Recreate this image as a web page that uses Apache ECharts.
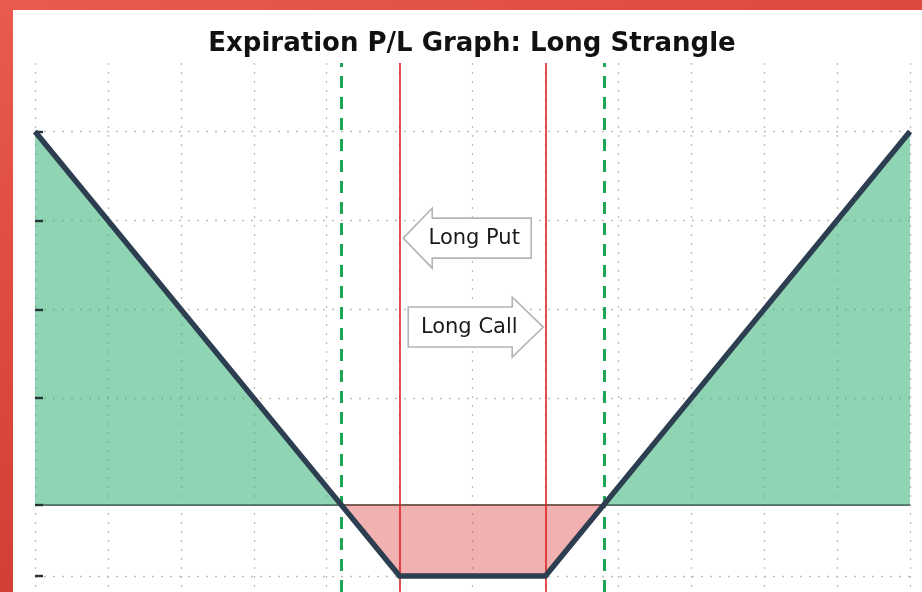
<!DOCTYPE html>
<html>
<head>
<meta charset="utf-8">
<script src="https://cdn.jsdelivr.net/npm/echarts@6/dist/echarts.min.js"></script>
<style>
  html, body { margin: 0; padding: 0; width: 922px; height: 592px; overflow: hidden; }
  body { background: linear-gradient(160deg, #ea5a4e 0%, #d9463c 45%, #c3322b 100%); position: relative; }
  #panel { position: absolute; left: 13px; top: 10px; right: 0; bottom: 0; background: #ffffff; }
  #chart { position: absolute; left: 0; top: 0; width: 922px; height: 592px; }
</style>
</head>
<body>
<div id="panel"></div>
<div id="chart"></div>
<script>
// ---- data ----
const chartTitle = 'Expiration P/L Graph: Long Strangle';
const priceX = [0, 4.2, 5, 7, 7.8, 12];          // underlying price at expiration
const profitLoss = [4.2, 0, -0.8, -0.8, 0, 4.2];  // P/L at those prices
const strikeLines = [5, 7];                        // put strike, call strike
const breakevenLines = [4.2, 7.8];                 // breakeven prices
const yGridValues = [-0.8, 0, 1.2, 2.2, 3.2, 4.2];
const arrowLabels = ['Long Put', 'Long Call'];
const arrowTipX = [5.05, 6.97];
const arrowTipY = [3.0, 2.0];
const arrowDirs = ['left', 'right'];

// ---- build series data ----
const plPoints = priceX.map((x, i) => [x, profitLoss[i]]);
const gainPoints = plPoints.filter(p => p[1] >= 0);
const lossPoints = plPoints.filter(p => p[1] <= 0);
const arrowData = arrowLabels.map((t, i) => [arrowTipX[i], arrowTipY[i]]);

const chart = echarts.init(document.getElementById('chart'), null, { renderer: 'canvas' });

const dotted = { color: '#bdbdbd', width: 1.3, type: [2, 7] };

const option = {
  backgroundColor: 'transparent',
  animation: false,
  grid: { left: 35, right: 12, top: 63, bottom: 0, containLabel: false },
  xAxis: {
    type: 'value', min: 0, max: 12, interval: 1,
    axisLine: { show: false }, axisTick: { show: false }, axisLabel: { show: false },
    splitLine: { show: true, lineStyle: dotted }
  },
  yAxis: {
    type: 'value', min: -0.98, max: 4.97, z: 6,
    axisLine: { show: false },
    axisLabel: { show: false },
    splitLine: { show: false },
    axisTick: { show: true, inside: true, length: 8, customValues: yGridValues,
      lineStyle: { color: '#263238', width: 2.4 } }
  },
  graphic: [{
    type: 'text', x: 472, y: 44, z: 10,
    style: { text: chartTitle, x: 0, y: 0, align: 'center', verticalAlign: 'middle',
      font: 'bold 26px "DejaVu Sans", sans-serif', fill: '#111111' }
  }],
  series: [
    {
      name: 'grid', type: 'line', data: [], z: 1, silent: true,
      markLine: {
        z: 1, silent: true, symbol: ['none', 'none'], label: { show: false }, animation: false,
        data: yGridValues.filter(v => v !== 0).map(v => ({ yAxis: v, lineStyle: dotted }))
          .concat([{ yAxis: 0, lineStyle: { color: '#2f3a35', width: 1.6, type: 'solid' } }])
      }
    },
    {
      name: 'gain', type: 'line', data: gainPoints, z: 2, silent: true,
      showSymbol: false, symbol: 'none',
      lineStyle: { width: 0 },
      areaStyle: { color: 'rgba(51,177,117,0.55)', opacity: 1, origin: 0 }
    },
    {
      name: 'loss', type: 'line', data: lossPoints, z: 2, silent: true,
      showSymbol: false, symbol: 'none',
      lineStyle: { width: 0 },
      areaStyle: { color: 'rgba(220,40,40,0.36)', opacity: 1, origin: 0 }
    },
    {
      name: 'markers', type: 'line', data: [], z: 3, silent: true,
      markLine: {
        z: 3, silent: true, symbol: ['none', 'none'], label: { show: false }, animation: false,
        data: strikeLines.map(v => ({ xAxis: v, lineStyle: { color: '#de2626', width: 1.6, type: 'solid' } }))
          .concat(breakevenLines.map(v => ({ xAxis: v, lineStyle: { color: '#1da653', width: 3, type: [12, 9] } })))
      }
    },
    {
      name: 'P/L', type: 'line', data: plPoints, z: 10, silent: true,
      showSymbol: false, symbol: 'none',
      lineStyle: { color: '#2c3e50', width: 5.5, join: 'miter' }
    },
    {
      name: 'arrows', type: 'custom', data: arrowData, z: 12, clip: false, silent: true,
      renderItem: function (params, api) {
        const p = api.coord([api.value(0), api.value(1)]);
        const tx = p[0], ty = p[1];
        const dir = arrowDirs[params.dataIndex];
        const label = arrowLabels[params.dataIndex];
        let pts, textX;
        if (dir === 'left') {
          const hx = tx + 29, ex = tx + 128;
          pts = [[tx, ty], [hx, ty - 30], [hx, ty - 20], [ex, ty - 20], [ex, ty + 20], [hx, ty + 20], [hx, ty + 30]];
          textX = tx + 71;
        } else {
          const hx = tx - 31, ex = tx - 135;
          pts = [[tx, ty], [hx, ty - 30], [hx, ty - 20], [ex, ty - 20], [ex, ty + 20], [hx, ty + 20], [hx, ty + 30]];
          textX = tx - 74;
        }
        return {
          type: 'group',
          children: [
            { type: 'polygon', shape: { points: pts },
              style: { fill: '#ffffff', stroke: '#b4b4b4', lineWidth: 1.6 } },
            { type: 'text', x: textX, y: ty,
              style: { text: label, align: 'center', verticalAlign: 'middle',
                font: '21px "DejaVu Sans", sans-serif', fill: '#1a1a1a' } }
          ]
        };
      }
    }
  ]
};
chart.setOption(option);
</script>
</body>
</html>
